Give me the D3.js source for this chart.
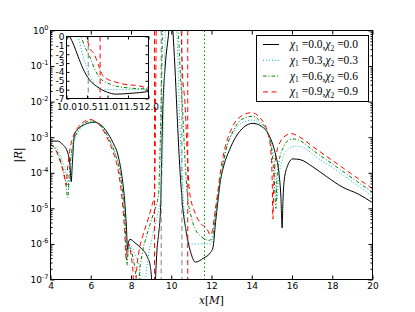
<!DOCTYPE html>
<html>
<head>
<meta charset="utf-8">
<script src="https://cdn.jsdelivr.net/npm/d3@7"></script>
<style>
  body { margin: 0; background: #fff; }
  svg { font-family: "DejaVu Sans", sans-serif; }
</style>
</head>
<body>
<svg class="plot" width="415" height="312"></svg>
<script>
// x in M, values are log10 |R|
const x_00 = [4.0, 4.35, 4.6, 4.86, 4.97, 5.03, 5.08, 5.19, 5.4, 5.75, 6.15, 6.5, 6.8, 7.1, 7.35, 7.55, 7.68, 7.77, 7.83, 7.88, 7.95, 8.2, 8.5, 8.8, 8.95, 9.05, 9.1, 9.2, 9.3, 9.37, 9.47, 9.58, 9.7, 9.88, 9.98, 10.08, 10.18, 10.28, 10.4, 10.56, 10.74, 11.0, 11.2, 11.6, 11.95, 12.07, 12.2, 12.31, 12.45, 12.56, 12.9, 13.2, 13.6, 14.05, 14.5, 14.88, 15.2, 15.35, 15.45, 15.51, 15.55, 15.6, 15.75, 16.04, 16.4, 17.0, 17.7, 18.5, 19.3, 20.0]
const r_00 = [-3.11, -3.11, -3.2, -3.44, -3.8, -4.25, -3.8, -2.92, -2.75, -2.63, -2.58, -2.65, -2.85, -3.15, -3.5, -4.1, -4.75, -5.5, -6.16, -5.95, -5.87, -5.97, -6.12, -6.35, -6.6, -7.3, -8.5, -7.2, -6.1, -5.74, -4.98, -2.22, -1.0, 0.0, 0.8, 0.0, -1.0, -2.22, -3.6, -4.9, -5.64, -6.3, -6.51, -6.4, -6.24, -6.11, -5.4, -4.84, -4.2, -3.91, -3.35, -3.0, -2.72, -2.61, -2.7, -2.97, -3.53, -4.0, -4.7, -5.55, -4.8, -4.28, -3.85, -3.61, -3.63, -3.82, -4.1, -4.4, -4.6, -4.84]

const x_03 = [4.0, 4.2, 4.4, 4.6, 4.8, 4.9, 4.96, 5.1, 5.3, 5.55, 5.85, 6.1, 6.35, 6.65, 6.95, 7.25, 7.5, 7.65, 7.75, 7.82, 7.88, 7.97, 8.2, 8.45, 8.55, 8.6, 8.7, 8.85, 9.1, 9.35, 9.5, 9.58, 9.65, 9.72, 10.0, 10.22, 10.28, 10.4, 10.56, 10.7, 10.85, 11.2, 11.6, 11.95, 12.08, 12.2, 12.35, 12.5, 12.7, 13.1, 13.5, 14.05, 14.4, 14.8, 15.05, 15.18, 15.26, 15.32, 15.45, 15.7, 16.2, 16.6, 17.2, 18.0, 19.0, 20.0]
const r_03 = [-3.2, -3.25, -3.4, -3.7, -4.1, -4.45, -4.0, -3.3, -2.95, -2.72, -2.6, -2.57, -2.6, -2.75, -3.1, -3.5, -4.1, -4.9, -5.7, -6.4, -6.1, -6.05, -6.3, -6.8, -7.3, -8.5, -7.2, -6.4, -5.7, -5.1, -4.6, -3.3, -1.6, 0.2, 1.2, 0.2, -0.08, -2.2, -4.3, -5.5, -6.0, -6.0, -6.0, -6.0, -5.8, -5.2, -4.6, -4.0, -3.4, -2.85, -2.6, -2.52, -2.62, -2.9, -3.4, -4.0, -4.75, -4.2, -3.8, -3.4, -3.25, -3.3, -3.55, -3.85, -4.25, -4.66]

const x_06 = [4.0, 4.2, 4.4, 4.6, 4.75, 4.86, 4.92, 5.05, 5.25, 5.5, 5.8, 6.05, 6.3, 6.6, 6.9, 7.2, 7.45, 7.62, 7.72, 7.8, 7.86, 7.95, 8.1, 8.25, 8.32, 8.4, 8.55, 8.75, 9.1, 9.37, 9.45, 9.52, 9.58, 10.0, 10.3, 10.36, 10.45, 10.56, 10.7, 10.8, 11.0, 11.21, 11.5, 11.9, 12.05, 12.2, 12.35, 12.5, 12.7, 13.1, 13.5, 14.05, 14.4, 14.8, 15.0, 15.12, 15.2, 15.25, 15.35, 15.6, 15.85, 16.12, 16.5, 17.0, 18.0, 19.0, 20.0]
const r_06 = [-3.22, -3.3, -3.5, -3.85, -4.25, -4.7, -4.1, -3.4, -2.95, -2.7, -2.57, -2.54, -2.58, -2.75, -3.05, -3.45, -4.0, -4.8, -5.6, -6.6, -6.2, -6.1, -6.4, -7.0, -8.5, -7.0, -6.3, -5.82, -5.17, -4.6, -3.2, -1.5, 0.3, 1.3, 0.2, -0.15, -1.2, -2.2, -3.8, -4.6, -5.25, -5.6, -5.8, -5.9, -5.8, -5.1, -4.5, -4.0, -3.4, -2.8, -2.5, -2.41, -2.55, -2.9, -3.4, -4.2, -5.0, -4.2, -3.7, -3.25, -3.08, -3.05, -3.13, -3.35, -3.75, -4.15, -4.55]

const x_09 = [4.0, 4.2, 4.4, 4.6, 4.72, 4.78, 4.83, 4.95, 5.15, 5.4, 5.7, 5.95, 6.2, 6.5, 6.8, 7.1, 7.35, 7.55, 7.68, 7.76, 7.82, 7.9, 8.0, 8.12, 8.18, 8.25, 8.4, 8.57, 8.85, 9.05, 9.17, 9.2, 9.23, 9.27, 10.0, 10.47, 10.52, 10.56, 10.68, 10.8, 10.9, 11.2, 11.5, 11.75, 11.95, 12.05, 12.15, 12.3, 12.45, 12.65, 13.06, 13.5, 14.0, 14.4, 14.8, 14.95, 15.02, 15.05, 15.1, 15.2, 15.4, 15.7, 15.96, 16.4, 17.0, 18.0, 19.0, 20.0]
const r_09 = [-3.2, -3.3, -3.55, -3.9, -4.2, -4.35, -4.0, -3.4, -2.95, -2.7, -2.55, -2.5, -2.55, -2.7, -3.0, -3.4, -3.9, -4.7, -5.6, -6.4, -6.1, -6.0, -6.3, -7.0, -8.5, -7.0, -6.2, -5.8, -5.3, -4.9, -4.6, -3.5, -1.5, 0.5, 1.5, 0.5, -0.6, -1.2, -2.03, -3.5, -4.5, -5.15, -5.45, -5.55, -5.75, -5.6, -5.2, -4.6, -3.95, -3.35, -2.69, -2.4, -2.31, -2.45, -2.88, -3.4, -4.3, -5.3, -4.2, -3.55, -3.15, -2.95, -2.9, -3.0, -3.25, -3.65, -4.05, -4.45]

const seriesX = [x_00, x_03, x_06, x_09]
const seriesR = [r_00, r_03, r_06, r_09]
const chiValues = ["0.0", "0.3", "0.6", "0.9"]
const colors = ["#000000", "#00bfbf", "#008000", "#ff0000"]
const dashes = [null, "1,2", "3.5,2,1,2", "5,3.5"]
const markerDashes = ["5,3.5", "1,2", "1.5,2.5", "5,3.5"]

// vertical guide lines and which series they belong to
const markerX = [9.5, 10.53, 9.17, 10.82, 11.65]
const markerSeries = [0, 0, 3, 3, 2]

const xTicks = [4, 6, 8, 10, 12, 14, 16, 18, 20]
const yExps = [0, -1, -2, -3, -4, -5, -6, -7]
const insetXTicks = [10.0, 10.5, 11.0, 11.5, 12.0]
const insetYTicks = [0, -1, -2, -3, -4, -5, -6, -7]

var width = 415
var height = 312
var margin = { "top": 30.5, "right": 42.5, "bottom": 32.5, "left": 50.5 }
var chart_width = width - margin.left - margin.right
var chart_height = height - margin.top - margin.bottom

const svg = d3.select("svg.plot")

const xScale = d3.scaleLinear().domain([4, 20]).range([0, chart_width])
const yScale = d3.scaleLog().domain([1e-7, 1]).range([chart_height, 0])

var data = seriesX.map((xs, i) => xs.map((x, j) => [x, seriesR[i][j]]))

const defs = svg.append("defs")
defs.append("clipPath").attr("id", "clipMain")
  .append("rect").attr("width", chart_width).attr("height", chart_height)

const main = svg.append("g")
  .attr("transform", "translate(" + margin.left + "," + margin.top + ")")

const plotArea = main.append("g").attr("clip-path", "url(#clipMain)")

function styleLine(sel, i, marker) {
  sel.attr("fill", "none")
    .attr("stroke", (marker && i == 0) ? "#808080" : colors[i])
    .attr("stroke-width", 1)
  if (marker) sel.attr("stroke-dasharray", markerDashes[i])
  else if (dashes[i]) sel.attr("stroke-dasharray", dashes[i])
}

const line = d3.line()
  .x(d => xScale(d[0]))
  .y(d => yScale(Math.pow(10, d[1])))
  .curve(d3.curveMonotoneX)

for (let i = 0; i < 4; i++) {
  plotArea.append("path").attr("d", line(data[i])).call(styleLine, i, false)
  markerX.forEach((mx, k) => {
    if (markerSeries[k] != i) return
    plotArea.append("line")
      .attr("x1", xScale(mx)).attr("x2", xScale(mx))
      .attr("y1", 0).attr("y2", chart_height)
      .call(styleLine, i, true)
  })
}

// axes, ticks inside on all sides
function cleanAxis(g) {
  g.select(".domain").remove()
  g.attr("font-family", "DejaVu Sans").attr("font-size", 9)
  g.selectAll("line").attr("stroke", "#000")
}
main.append("g")
  .attr("transform", "translate(0," + chart_height + ")")
  .call(d3.axisBottom(xScale).tickValues(xTicks).tickSize(-4).tickPadding(3.5).tickFormat(d3.format("d")))
  .call(cleanAxis)
main.append("g")
  .call(d3.axisTop(xScale).tickValues(xTicks).tickSize(-4).tickFormat(""))
  .call(cleanAxis)

var minors = []
yExps.forEach(e => { if (e > -7) for (let m = 2; m < 10; m++) minors.push(m * Math.pow(10, e - 1)) })
var majors = yExps.map(e => Math.pow(10, e))

const yAxisG = main.append("g")
  .call(d3.axisLeft(yScale).tickValues(majors).tickSize(-4).tickPadding(2))
  .call(cleanAxis)
yAxisG.selectAll(".tick text").each(function (d) {
  var t = d3.select(this)
  var e = Math.round(Math.log10(d))
  t.text("")
  t.append("tspan").text("10")
  t.append("tspan").attr("font-size", 6.5).attr("dy", -4).text(e)
})
main.append("g")
  .call(d3.axisLeft(yScale).tickValues(minors).tickSize(-2).tickFormat(""))
  .call(cleanAxis)
main.append("g")
  .attr("transform", "translate(" + chart_width + ",0)")
  .call(d3.axisRight(yScale).tickValues(majors).tickSize(-4).tickFormat(""))
  .call(cleanAxis)
main.append("g")
  .attr("transform", "translate(" + chart_width + ",0)")
  .call(d3.axisRight(yScale).tickValues(minors).tickSize(-2).tickFormat(""))
  .call(cleanAxis)

main.append("rect")
  .attr("width", chart_width).attr("height", chart_height)
  .attr("fill", "none").attr("stroke", "#000").attr("stroke-width", 1)

// axis labels
var xl = svg.append("text")
  .attr("x", margin.left + chart_width / 2).attr("y", 304)
  .attr("text-anchor", "middle")
  .attr("font-family", "DejaVu Serif").attr("font-size", 10.5)
xl.append("tspan").attr("font-style", "italic").text("x")
xl.append("tspan").text("[")
xl.append("tspan").attr("font-style", "italic").text("M")
xl.append("tspan").text("]")

var yl = svg.append("text")
  .attr("transform", "translate(22," + (margin.top + chart_height / 2) + ") rotate(-90)")
  .attr("text-anchor", "middle")
  .attr("font-family", "DejaVu Serif").attr("font-size", 10.5)
yl.append("tspan").text("|")
yl.append("tspan").attr("font-style", "italic").text("R")
yl.append("tspan").text("|")

// legend
var lg = svg.append("g")
lg.append("rect")
  .attr("x", 256.5).attr("y", 35.5).attr("width", 112).attr("height", 66)
  .attr("fill", "#fff").attr("stroke", "#000").attr("stroke-width", 1)
chiValues.forEach((v, i) => {
  var ly = 44.5 + i * 15.8
  lg.append("line")
    .attr("x1", 263).attr("x2", 279).attr("y1", ly).attr("y2", ly)
    .call(styleLine, i, false)
  var t = lg.append("text")
    .attr("x", 290).attr("y", ly + 3.5)
    .attr("font-family", "Liberation Serif").attr("font-size", 11.5)
  t.append("tspan").attr("font-style", "italic").text("\u03c7")
  t.append("tspan").attr("font-size", 7.5).attr("dy", 2.5).text("1")
  t.append("tspan").attr("dy", -2.5).text(" =" + v + ",")
  t.append("tspan").attr("font-style", "italic").text("\u03c7")
  t.append("tspan").attr("font-size", 7.5).attr("dy", 2.5).text("2")
  t.append("tspan").attr("dy", -2.5).text(" =" + v)
  // shrink to the width seen in the picture if the font runs wide
  var w = t.node().getComputedTextLength()
  if (w > 75) t.attr("textLength", 75).attr("lengthAdjust", "spacingAndGlyphs")
})

// inset: zoom on 10 < x < 12 in log10 |R|
var inset = { "left": 66.5, "top": 36.5, "width": 82, "height": 62 }
const ixScale = d3.scaleLinear().domain([10, 12]).range([0, inset.width])
const iyScale = d3.scaleLinear().domain([-7, 0]).range([inset.height, 0])

defs.append("clipPath").attr("id", "clipInset")
  .append("rect").attr("width", inset.width).attr("height", inset.height)

const ig = svg.append("g")
  .attr("transform", "translate(" + inset.left + "," + inset.top + ")")
ig.append("rect").attr("width", inset.width).attr("height", inset.height).attr("fill", "#fff")

const iArea = ig.append("g").attr("clip-path", "url(#clipInset)")
const iline = d3.line()
  .x(d => ixScale(d[0]))
  .y(d => iyScale(d[1]))
  .curve(d3.curveMonotoneX)

for (let i = 0; i < 4; i++) {
  iArea.append("path").attr("d", iline(data[i])).call(styleLine, i, false)
  markerX.forEach((mx, k) => {
    if (markerSeries[k] != i || i == 2) return
    iArea.append("line")
      .attr("x1", ixScale(mx)).attr("x2", ixScale(mx))
      .attr("y1", 0).attr("y2", inset.height)
      .call(styleLine, i, true)
  })
}

function insetAxis(g) {
  g.select(".domain").remove()
  g.attr("font-family", "DejaVu Sans").attr("font-size", 9)
  g.selectAll("line").attr("stroke", "#000")
}
ig.append("g")
  .attr("transform", "translate(0," + inset.height + ")")
  .call(d3.axisBottom(ixScale).tickValues(insetXTicks).tickSize(-3).tickPadding(5).tickFormat(d3.format(".1f")))
  .call(insetAxis)
ig.append("g")
  .call(d3.axisTop(ixScale).tickValues(insetXTicks).tickSize(-3).tickFormat(""))
  .call(insetAxis)
ig.append("g")
  .call(d3.axisLeft(iyScale).tickValues(insetYTicks).tickSize(-3).tickPadding(2).tickFormat(d => String(d)))
  .call(insetAxis)
ig.append("g")
  .attr("transform", "translate(" + inset.width + ",0)")
  .call(d3.axisRight(iyScale).tickValues(insetYTicks).tickSize(-3).tickFormat(""))
  .call(insetAxis)
ig.append("rect")
  .attr("width", inset.width).attr("height", inset.height)
  .attr("fill", "none").attr("stroke", "#000").attr("stroke-width", 1)
</script>
</body>
</html>
